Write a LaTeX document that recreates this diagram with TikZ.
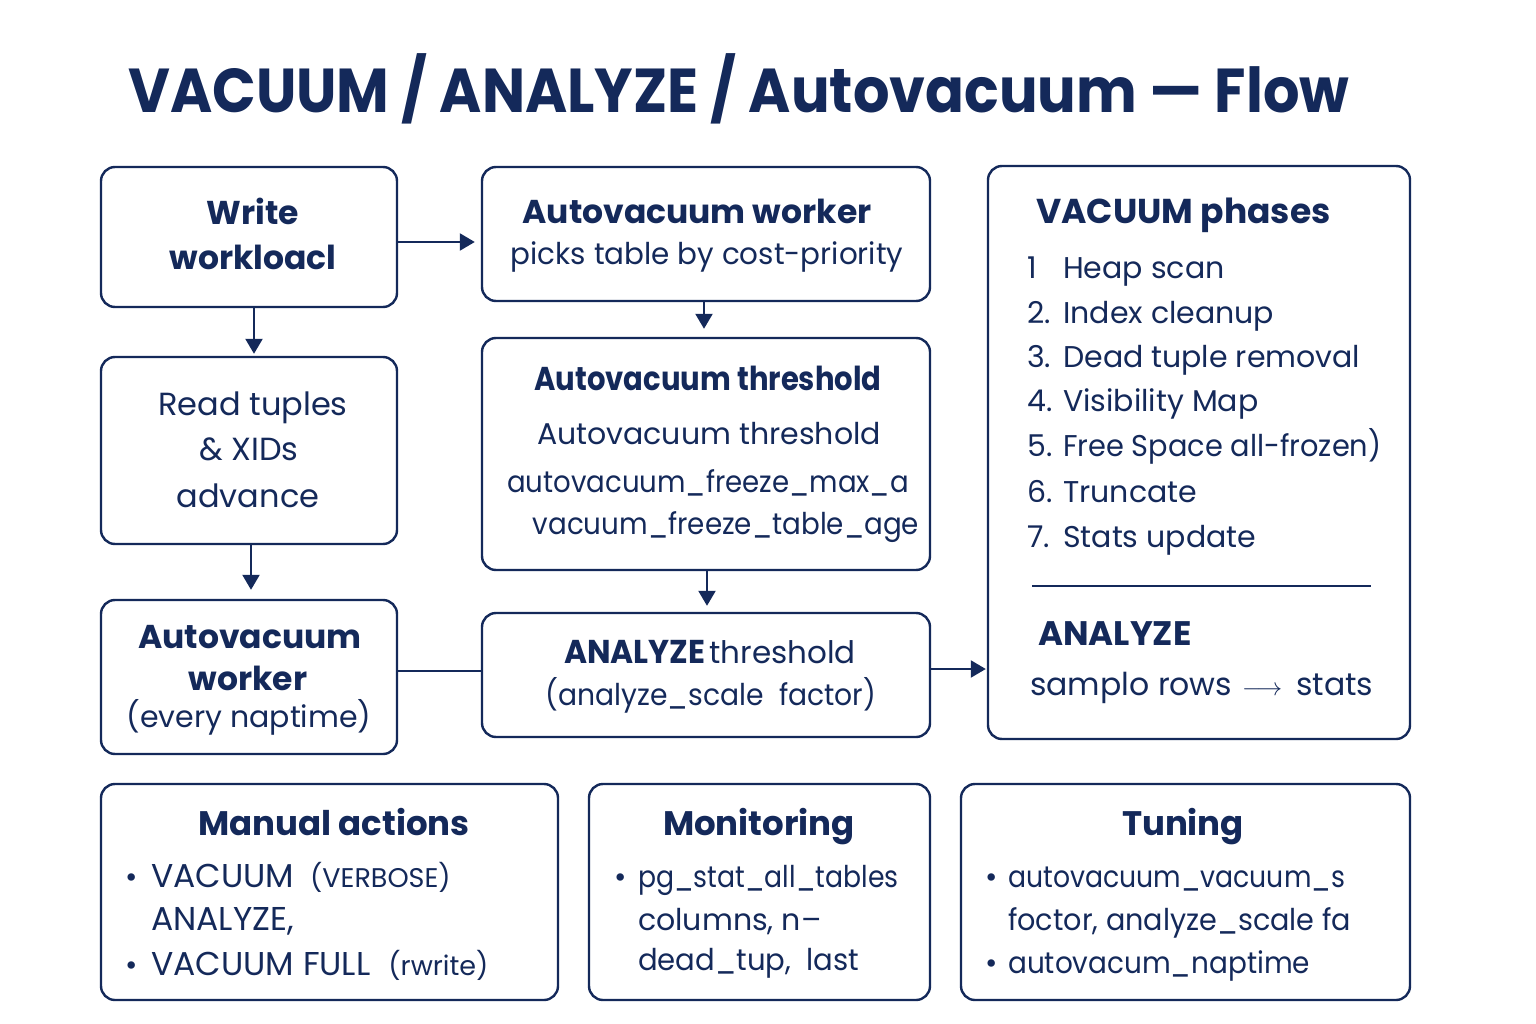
\documentclass[tikz,border=0pt]{standalone}
\usepackage{fontspec}
\usepackage{graphicx}
\setmainfont{Poppins}
\usetikzlibrary{arrows.meta}
\definecolor{navy}{HTML}{14295A}
\newcommand{\fsz}[1]{\fontsize{#1}{#1}\selectfont}
\newcommand{\xs}[2]{\scalebox{#1}[1]{#2}}
\begin{document}
\begin{tikzpicture}[x=1pt,y=-1pt,
 box/.style={draw=navy,line width=2.4pt,rounded corners=14pt,inner sep=0pt,fill=white},
 txt/.style={text=navy,inner sep=0pt,anchor=base},
 ltxt/.style={text=navy,inner sep=0pt,anchor=base west},
 hd/.style={txt,font=\fsz{33}\bfseries},
 bd/.style={txt,font=\fsz{30}},
 lbd/.style={ltxt,font=\fsz{30}},
 conn/.style={draw=navy,line width=2.2pt},
 arr/.style={conn,-{Triangle[length=15pt,width=17pt]}}
]
\useasboundingbox[fill=white] (0,0) rectangle (1536,1024);

% title
\node[ltxt,font=\fsz{62}\bfseries] (title) at (128,113) {\xs{0.925}{VACUUM / ANALYZE / Autovacuum — Flow}};

% boxes
\node[box,minimum width=296pt,minimum height=140pt] (write) at (249,237) {};
\node[box,minimum width=448pt,minimum height=134pt] (picks) at (706,234) {};
\node[box,minimum width=296pt,minimum height=187pt] (read) at (249,450.5) {};
\node[box,minimum width=296pt,minimum height=154pt] (worker) at (249,677) {};
\node[box,minimum width=448pt,minimum height=232pt] (thresh) at (706,454) {};
\node[box,minimum width=448pt,minimum height=124pt] (analyze) at (706,675) {};
\node[box,minimum width=422pt,minimum height=573pt] (phases) at (1199,452.5) {};
\node[box,minimum width=457pt,minimum height=216pt] (manual) at (329.5,892) {};
\node[box,minimum width=341pt,minimum height=216pt] (monit) at (759.5,892) {};
\node[box,minimum width=449pt,minimum height=216pt] (tuning) at (1185.5,892) {};

% connectors
\draw[arr,shorten >=6pt] (write.east |- 0,242) -- (picks.west |- 0,242);
\draw[arr,shorten >=2pt] (write.south -| 254,0) -- (read.north -| 254,0);
\draw[arr,shorten >=9pt] (read.south -| 251,0) -- (worker.north -| 251,0);
\draw[arr,shorten >=8pt] (picks.south -| 704,0) -- (thresh.north -| 704,0);
\draw[arr,shorten >=6pt] (thresh.south -| 707,0) -- (analyze.north -| 707,0);
\draw[conn] (worker.east |- 0,671) -- (analyze.west |- 0,671);
\draw[arr,shorten >=1pt] (analyze.east |- 0,669) -- (phases.west |- 0,669);

% write
\node[hd] (t1) at (253,225) {Write};
\node[hd] (t2) at (253,270) {workloacl};
% picks
\node[hd] (t3) at (697,224) {Autovacuum worker};
\node[bd] (t4) at (707,265) {\xs{0.98}{picks table by cost-priority}};
% read
\node[bd,font=\fsz{32}] (t5) at (253,415) {Read tuples};
\node[bd,font=\fsz{32}] (t6) at (249,460) {\& XIDs};
\node[bd,font=\fsz{32}] (t7) at (248,507) {advance};
% worker
\node[hd] (t8) at (250,648) {Autovacuum};
\node[hd] (t9) at (248,690) {worker};
\node[bd] (t10) at (249,727) {(every naptime)};
% threshold
\node[hd] (t11) at (708,390) {\xs{0.88}{Autovacuum threshold}};
\node[bd] (t12) at (709,444) {Autovacuum threshold};
\node[bd] (t13) at (708,492) {\xs{0.92}{autovacuum\_freeze\_max\_a}};
\node[bd] (t14) at (726,534) {\xs{0.925}{vacuum\_freeze\_table\_age}};
% analyze
\node[bd] (t15) at (710,663) {{\fsz{33}\bfseries\xs{0.95}{ANALYZE}}\hspace{4pt}{\fsz{31}threshold}};
\node[bd] (t16) at (711,705) {\xs{0.94}{(analyze\_scale\ \ factor)}};
% phases
\node[ltxt,font=\fsz{34.5}\bfseries] (p0) at (1036,224) {VACUUM phases};
\foreach \n/\t/\y in {1/{Heap scan}/279, 2./{Index cleanup}/323, 3./{Dead tuple removal}/367, 4./{Visibility Map}/411, 5./{\xs{0.96}{Free Space all-frozen)}}/456, 6./{Truncate}/502, 7./{Stats update}/547}{
  \node[lbd] at (1027,\y) {\n};
  \node[lbd] at (1063,\y) {\t};
}
\draw[conn,line width=2pt] (1032,586) -- (1371,586);
\node[ltxt,font=\fsz{34}\bfseries] (a0) at (1038,645) {ANALYZE};
\node[lbd,font=\fsz{31.5}] (a1) at (1030,695) {samplo rows\hspace{10pt}{\fsz{38}$\longrightarrow$}\hspace{14pt}stats};
% manual
\node[hd,font=\fsz{34}\bfseries] (m0) at (334,835) {Manual actions};
\node[lbd] (m1) at (125,887) {•};
\node[lbd,font=\fsz{33}] (m2) at (151,887) {VACUUM\hspace{16pt}{\fsz{27}(VERBOSE)}};
\node[lbd,font=\fsz{33}] (m3) at (151,930) {ANALYZE,};
\node[lbd] (m4) at (125,975) {•};
\node[lbd,font=\fsz{33}] (m5) at (151,975) {VACUUM FULL\hspace{18pt}{\fsz{27}(rwrite)}};
% monitoring
\node[hd,font=\fsz{34}\bfseries] (n0) at (759,835) {Monitoring};
\node[lbd] (n1) at (614,887) {•};
\node[lbd] (n2) at (638,887) {\xs{0.89}{pg\_stat\_all\_tables}};
\node[lbd] (n3) at (638,930) {columns, n–};
\node[lbd] (n4) at (638,970) {\xs{0.97}{dead\_tup,\ \ last}};
% tuning
\node[hd,font=\fsz{34}\bfseries] (u0) at (1183,835) {Tuning};
\node[lbd] (u1) at (985,887) {•};
\node[lbd] (u2) at (1008,887) {\xs{0.89}{autovacuum\_vacuum\_s}};
\node[lbd] (u3) at (1008,930) {\xs{0.955}{foctor, analyze\_scale fa}};
\node[lbd] (u4) at (985,973) {•};
\node[lbd] (u5) at (1008,973) {\xs{0.93}{autovacum\_naptime}};
\end{tikzpicture}
\end{document}
